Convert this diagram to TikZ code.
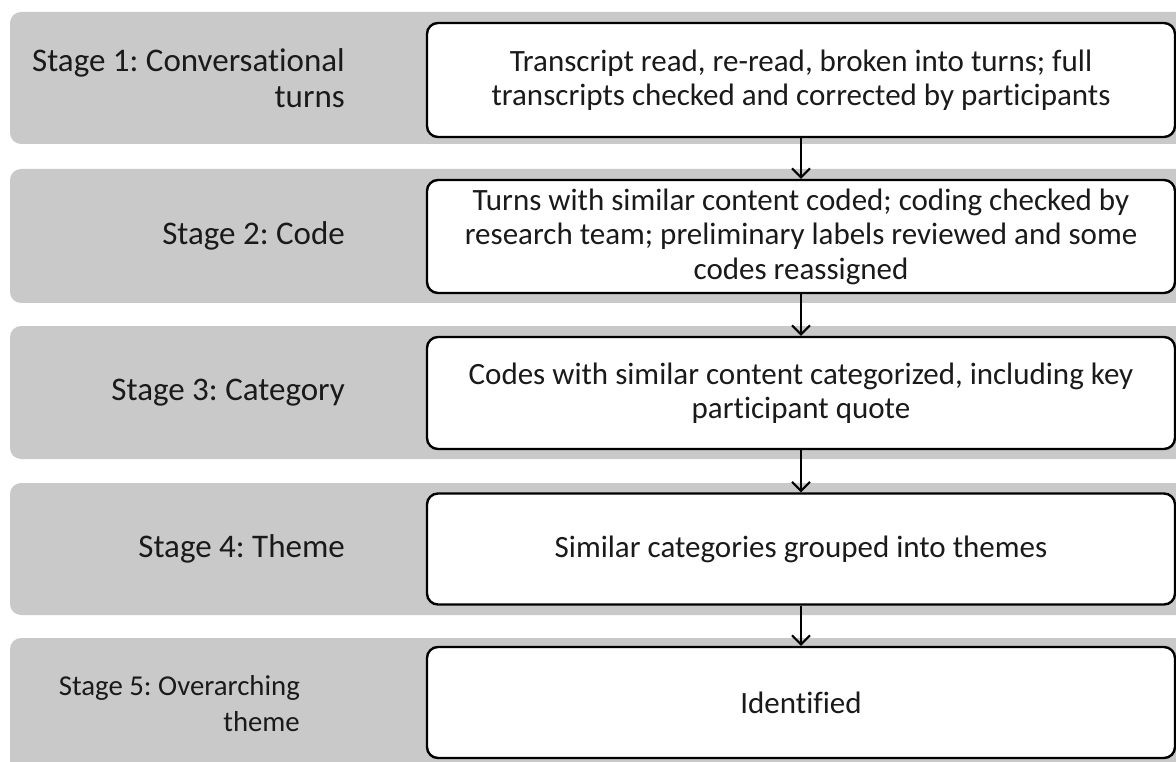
\documentclass[tikz,border=0pt]{standalone}
\usepackage{fontspec}
\setmainfont{Carlito}[Ligatures={NoCommon}]
\frenchspacing
\usetikzlibrary{arrows.meta}
\definecolor{bandgray}{RGB}{201,201,201}
\definecolor{inkcol}{RGB}{26,26,26}
\tikzset{
  band/.style={fill=bandgray, rounded corners=11pt},
  stepbox/.style={draw=black, fill=white, line width=2.4pt, rounded corners=11pt,
    minimum width=748pt, inner sep=0pt, align=center, text=inkcol,
    font=\fontsize{31}{34.5}\selectfont},
  stagelbl/.style={anchor=east, inner sep=0pt, align=right, text=inkcol,
    font=\fontsize{33}{36}\selectfont},
  flow/.style={line width=2pt, -{Straight Barb[length=9pt, width=18pt, line width=2pt]}}
}
\begin{document}
\begin{tikzpicture}[x=1pt, y=-1pt]
  \useasboundingbox (0,0) rectangle (1176,762);
  \clip (0,0) rectangle (1176,762);

  % grey stage bands
  \fill[band] (10,12)  rectangle (1200,144);
  \fill[band] (10,169) rectangle (1200,303);
  \fill[band] (10,326) rectangle (1200,459);
  \fill[band] (10,483) rectangle (1200,615);
  \fill[band] (10,638) rectangle (1200,790);

  % stage labels
  \node[stagelbl] (l1) at (345,78)  {Stage 1: Conversational\\turns};
  \node[stagelbl] (l2) at (345,236) {Stage 2: Code};
  \node[stagelbl] (l3) at (345,393) {Stage 3: Category};
  \node[stagelbl] (l4) at (345,549) {Stage 4: Theme};
  \node[stagelbl, font=\fontsize{28.8}{36}\selectfont] (l5) at (300,704)
    {Stage 5: Overarching\\theme};

  % process boxes
  \node[stepbox, minimum height=114pt] (b1) at (801,80)
    {Transcript read, re-read, broken into turns; full\\transcripts checked and corrected by participants};
  \node[stepbox, minimum height=113pt] (b2) at (801,236.5)
    {Turns with similar content coded; coding checked by\\research team; preliminary labels reviewed and some\\codes reassigned};
  \node[stepbox, minimum height=112pt] (b3) at (801,393)
    {Codes with similar content categorized, including key\\participant quote};
  \node[stepbox, minimum height=111pt] (b4) at (801,549)
    {Similar categories grouped into themes};
  \node[stepbox, minimum height=111pt] (b5) at (801,702.5)
    {Identified};

  % flow arrows
  \draw[flow] (b1.south) -- (b2.north);
  \draw[flow] (b2.south) -- (b3.north);
  \draw[flow] (b3.south) -- (b4.north);
  \draw[flow] (b4.south) -- (b5.north);
\end{tikzpicture}
\end{document}
